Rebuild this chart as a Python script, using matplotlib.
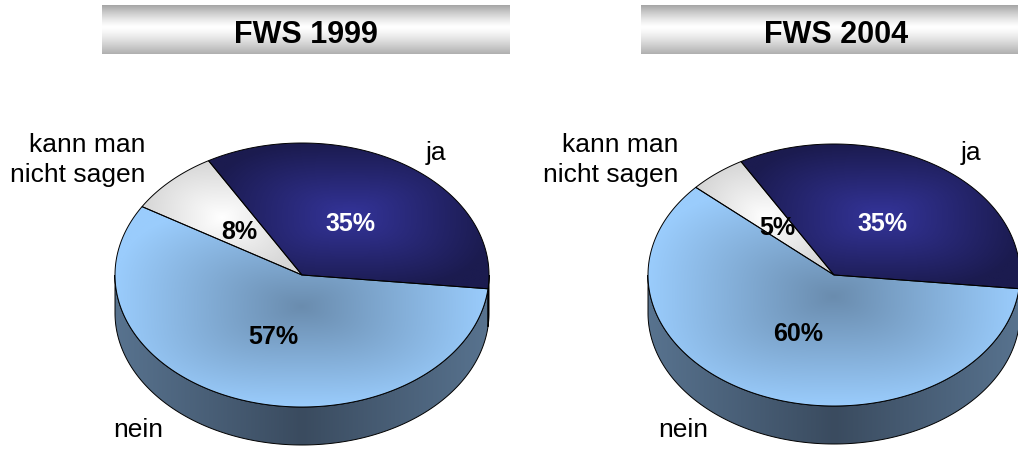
import numpy as np
import matplotlib.pyplot as plt
from matplotlib.patches import Polygon
from matplotlib.colors import to_rgb

plt.rcParams['font.family'] = ['Liberation Sans', 'DejaVu Sans']

# data
titles = ['FWS 1999', 'FWS 2004']
categories = ['ja', 'kann man\nnicht sagen', 'nein']
shares_1999 = [35, 8, 57]
shares_2004 = [35, 5, 60]

top_colors = {'ja': ('#34349a', '#1b1b4f'),
              'kann man\nnicht sagen': ('#ffffff', '#d6d6d6'),
              'nein': ('#6a8cae', '#9accfc')}
side_colors = {'ja': ('#15153a', '#23235a'),
               'kann man\nnicht sagen': ('#9a9a9a', '#bdbdbd'),
               'nein': ('#3a4b5f', '#58738f')}
pct_colors = {'ja': 'white', 'kann man\nnicht sagen': 'black', 'nein': 'black'}

W, H = 1018, 453
fig = plt.figure(figsize=(W / 100, H / 100), dpi=100)
ax = fig.add_axes([0, 0, 1, 1])


def arc(cx, cy, a, b, t1, t2, dy=0, n=200):
    t = np.radians(np.linspace(t1, t2, n))
    return np.column_stack([cx + a * np.cos(t), cy - b * np.sin(t) + dy])


def grad_fill(pts, c_center, c_edge, mode='rect', extent=None, z=2):
    if extent is None:
        x0, y0 = pts.min(0)
        x1, y1 = pts.max(0)
    else:
        x0, y0, x1, y1 = extent
    nx, ny = max(int(x1 - x0), 2), max(int(y1 - y0), 2)
    U, V = np.meshgrid(np.linspace(-1, 1, nx), np.linspace(-1, 1, ny))
    if mode == 'rect':
        t = np.clip((abs(U) ** 3 + abs(V) ** 3) ** (1 / 3), 0, 1)
    else:
        t = abs(U)
    cc, ce = np.array(to_rgb(c_center)), np.array(to_rgb(c_edge))
    img = cc + (ce - cc) * t[..., None]
    patch = Polygon(pts, closed=True, facecolor='none', edgecolor='black',
                    lw=0.7, zorder=z + 0.5)
    ax.add_patch(patch)
    im = ax.imshow(img, extent=(x0, x1, y1, y0), origin='upper', zorder=z,
                   interpolation='bilinear')
    im.set_clip_path(patch)


def pie3d(shares, cx, cy, a, b, depth, start=-6):
    angles = np.cumsum([0] + [s * 3.6 for s in shares]) + start
    # side walls (front half only)
    for cat, t1, t2 in zip(categories, angles[:-1], angles[1:]):
        for k in (-1, 0, 1):
            lo, hi = max(t1 + 360 * k, 180), min(t2 + 360 * k, 360)
            if hi > lo:
                pts = np.vstack([arc(cx, cy, a, b, lo, hi),
                                 arc(cx, cy, a, b, hi, lo, dy=depth)])
                grad_fill(pts, *side_colors[cat], mode='horiz',
                          extent=(cx - a, cy, cx + a, cy + b + depth), z=1)
    # top surface
    for cat, s, t1, t2 in zip(categories, shares, angles[:-1], angles[1:]):
        pts = np.vstack([[cx, cy], arc(cx, cy, a, b, t1, t2)])
        grad_fill(pts, *top_colors[cat], z=3)
        mid = np.radians((t1 + t2) / 2)
        ax.text(cx + 0.48 * a * np.cos(mid), cy - 0.48 * b * np.sin(mid) + 9,
                f'{s}%', ha='center', va='baseline', fontsize=18,
                fontweight='bold', color=pct_colors[cat], zorder=5)


def title_box(x0, x1, y0, y1, text, xc):
    yy = np.linspace(0, 1, 80)[:, None]
    shade = np.where(yy < 0.45, 1 - 0.35 * ((0.45 - yy) / 0.45) ** 1.3,
                     1 - 0.31 * ((yy - 0.45) / 0.55) ** 1.3)
    shade = np.repeat(shade, 4, axis=1)
    ax.imshow(np.repeat(shade[..., None], 3, axis=2), extent=(x0, x1, y1, y0),
              origin='upper', zorder=1, interpolation='bilinear')
    ax.text(xc, 43, text, ha='center', va='baseline', fontsize=22,
            fontweight='bold', color='black', zorder=5)


title_box(102, 510, 5, 54, titles[0], 306)
title_box(641, 1031, 5, 54, titles[1], 836)

pie3d(shares_1999, 302, 275, 187, 132, 38)
pie3d(shares_2004, 834, 275, 186, 131, 38)

# category labels
lab = dict(fontsize=19, color='black', va='baseline', zorder=5)
for x_kann, x_ja, x_nein in [(145, 426, 113), (678, 961, 658)]:
    ax.text(x_kann, 152, 'kann man', ha='right', **lab)
    ax.text(x_kann, 182, 'nicht sagen', ha='right', **lab)
    ax.text(x_ja, 160, categories[0], ha='left', **lab)
    ax.text(x_nein, 437, categories[2], ha='left', **lab)

ax.set_xlim(0, W)
ax.set_ylim(H, 0)
ax.set_aspect('auto')
ax.axis('off')
fig.savefig('out.png', dpi=100)
